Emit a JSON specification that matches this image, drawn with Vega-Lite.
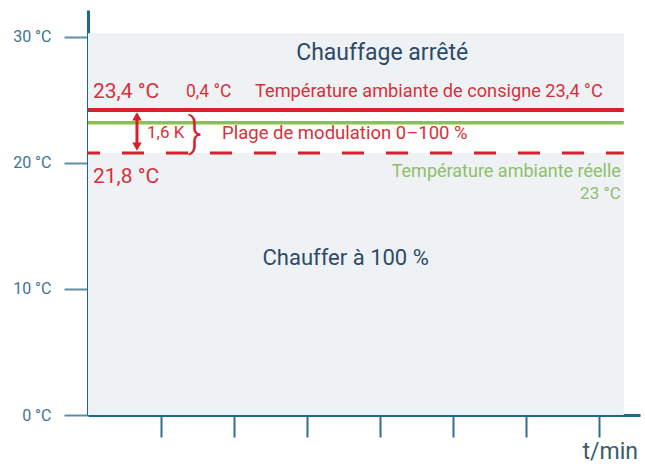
{
  "$schema": "https://vega.github.io/schema/vega-lite/v6.json",
  "width": 552,
  "height": 405,
  "autosize": {"type": "none"},
  "padding": {"left": 88, "top": 10, "right": 5, "bottom": 53},
  "background": "white",
  "config": {
    "view": {"stroke": null},
    "font": "Roboto",
    "text": {"font": "Roboto"}
  },
  "resolve": {"scale": {"color": "independent", "size": "independent", "strokeWidth": "independent", "strokeDash": "independent", "shape": "independent"}},
  "datasets": {
    "zones": [
      {"zone": "fond", "x0": 0, "x1": 7.34, "y0": 0, "y1": 30.3},
      {"zone": "plage", "x0": 0, "x1": 7.34, "y0": 20.8, "y1": 24.2}
    ],
    "lignes": [
      {"serie": "consigne", "temp": 24.2, "x0": 0, "x1": 7.34},
      {"serie": "reelle", "temp": 23.2, "x0": 0, "x1": 7.34},
      {"serie": "limite", "temp": 20.8, "x0": 0, "x1": 7.34}
    ],
    "fleche": [
      {"x": 0.671, "y0": 21.2, "y1": 23.8}
    ],
    "pointes": [
      {"x": 0.671, "y": 23.7, "sens": "haut"},
      {"x": 0.671, "y": 21.3, "sens": "bas"}
    ],
    "textes": [
      {"label": "Chauffage arrêté", "x": 4.03, "y": 28.75, "groupe": "etat", "align": "center", "taille": 23},
      {"label": "Chauffer à 100 %", "x": 3.53, "y": 12.46, "groupe": "etat", "align": "center", "taille": 22},
      {"label": "23,4 °C", "x": 0.068, "y": 25.6, "groupe": "rouge", "align": "left", "taille": 21},
      {"label": "21,8 °C", "x": 0.068, "y": 18.89, "groupe": "rouge", "align": "left", "taille": 21},
      {"label": "0,4 °C", "x": 1.342, "y": 25.6, "groupe": "rouge", "align": "left", "taille": 17.5},
      {"label": "Température ambiante de consigne 23,4 °C", "x": 2.288, "y": 25.6, "groupe": "rouge", "align": "left", "taille": 18.2},
      {"label": "1,6 K", "x": 0.808, "y": 22.38, "groupe": "rouge", "align": "left", "taille": 17},
      {"label": "Plage de modulation 0–100 %", "x": 1.836, "y": 22.38, "groupe": "rouge", "align": "left", "taille": 18.5},
      {"label": "Température ambiante réelle", "x": 7.3, "y": 19.29, "groupe": "vert", "align": "right", "taille": 18},
      {"label": "23 °C", "x": 7.3, "y": 17.54, "groupe": "vert", "align": "right", "taille": 17},
      {"label": "t/min", "x": 7.534, "y": -2.94, "groupe": "axe", "align": "right", "taille": 23}
    ]
  },
  "layer": [
    {
      "data": {"name": "zones"},
      "mark": {"type": "rect"},
      "encoding": {
        "x": {"field": "x0", "type": "quantitative", "scale": {"domain": [0, 7.562], "nice": false, "zero": false}, "axis": {"values": [1, 2, 3, 4, 5, 6, 7], "labels": false, "title": null, "grid": false, "tickSize": 22, "tickWidth": 2, "tickColor": "#2f6f88", "domainColor": "#1b6a8a", "domainWidth": 3}},
        "x2": {"field": "x1"},
        "y": {"field": "y0", "type": "quantitative", "scale": {"domain": [0, 32.14], "nice": false, "zero": false}, "axis": {"values": [0, 10, 20, 30], "labelExpr": "datum.value + ' °C'", "title": null, "grid": false, "tickSize": 24, "tickWidth": 2, "tickColor": "#5e8ea0", "domainColor": "#1b6a8a", "domainWidth": 3, "labelColor": "#3f7391", "labelFontSize": 16, "labelFont": "Roboto", "labelPadding": 13}},
        "y2": {"field": "y1"},
        "color": {"field": "zone", "type": "nominal", "scale": {"domain": ["fond", "plage"], "range": ["#eef2f5", "#ffffff"]}, "legend": null}
      }
    },
    {
      "data": {"name": "lignes"},
      "mark": {"type": "rule", "strokeDashOffset": 10},
      "encoding": {
        "x": {"field": "x0", "type": "quantitative"},
        "x2": {"field": "x1"},
        "y": {"field": "temp", "type": "quantitative"},
        "color": {"field": "serie", "type": "nominal", "scale": {"domain": ["consigne", "reelle", "limite"], "range": ["#d7202c", "#8cc152", "#d7202c"]}, "legend": null},
        "strokeWidth": {"field": "serie", "type": "nominal", "scale": {"domain": ["consigne", "reelle", "limite"], "range": [4, 3, 4]}, "legend": null},
        "strokeDash": {"field": "serie", "type": "nominal", "scale": {"domain": ["consigne", "reelle", "limite"], "range": [[1, 0], [1, 0], [22, 22]]}, "legend": null}
      }
    },
    {
      "data": {"name": "fleche"},
      "mark": {"type": "rule", "color": "#d7202c", "strokeWidth": 3},
      "encoding": {
        "x": {"field": "x", "type": "quantitative"},
        "y": {"field": "y0", "type": "quantitative"},
        "y2": {"field": "y1"}
      }
    },
    {
      "data": {"name": "pointes"},
      "mark": {"type": "point", "filled": true, "color": "#d7202c", "size": 90, "opacity": 1},
      "encoding": {
        "x": {"field": "x", "type": "quantitative"},
        "y": {"field": "y", "type": "quantitative"},
        "shape": {"field": "sens", "type": "nominal", "scale": {"domain": ["haut", "bas"], "range": ["triangle-up", "triangle-down"]}, "legend": null}
      }
    },
    {
      "data": {"values": [{"label": "}", "x": 1.466, "y": 22.3}]},
      "mark": {"type": "text", "color": "#d7202c", "fontSize": 42, "fontWeight": 300, "baseline": "middle", "align": "center"},
      "encoding": {
        "x": {"field": "x", "type": "quantitative"},
        "y": {"field": "y", "type": "quantitative"},
        "text": {"field": "label"}
      }
    },
    {
      "data": {"name": "textes"},
      "transform": [{"filter": "datum.align == 'left'"}],
      "mark": {"type": "text", "align": "left", "baseline": "middle"},
      "encoding": {
        "x": {"field": "x", "type": "quantitative"},
        "y": {"field": "y", "type": "quantitative"},
        "text": {"field": "label"},
        "size": {"field": "taille", "type": "quantitative", "scale": null, "legend": null},
        "color": {"field": "groupe", "type": "nominal", "scale": {"domain": ["etat", "rouge", "vert", "axe"], "range": ["#2e4a68", "#d9303a", "#8fbf6a", "#3a5a6e"]}, "legend": null}
      }
    },
    {
      "data": {"name": "textes"},
      "transform": [{"filter": "datum.align == 'right'"}],
      "mark": {"type": "text", "align": "right", "baseline": "middle"},
      "encoding": {
        "x": {"field": "x", "type": "quantitative"},
        "y": {"field": "y", "type": "quantitative"},
        "text": {"field": "label"},
        "size": {"field": "taille", "type": "quantitative", "scale": null, "legend": null},
        "color": {"field": "groupe", "type": "nominal", "scale": {"domain": ["etat", "rouge", "vert", "axe"], "range": ["#2e4a68", "#d9303a", "#8fbf6a", "#3a5a6e"]}, "legend": null}
      }
    },
    {
      "data": {"name": "textes"},
      "transform": [{"filter": "datum.align == 'center'"}],
      "mark": {"type": "text", "align": "center", "baseline": "middle"},
      "encoding": {
        "x": {"field": "x", "type": "quantitative"},
        "y": {"field": "y", "type": "quantitative"},
        "text": {"field": "label"},
        "size": {"field": "taille", "type": "quantitative", "scale": null, "legend": null},
        "color": {"field": "groupe", "type": "nominal", "scale": {"domain": ["etat", "rouge", "vert", "axe"], "range": ["#2e4a68", "#d9303a", "#8fbf6a", "#3a5a6e"]}, "legend": null}
      }
    }
  ]
}
